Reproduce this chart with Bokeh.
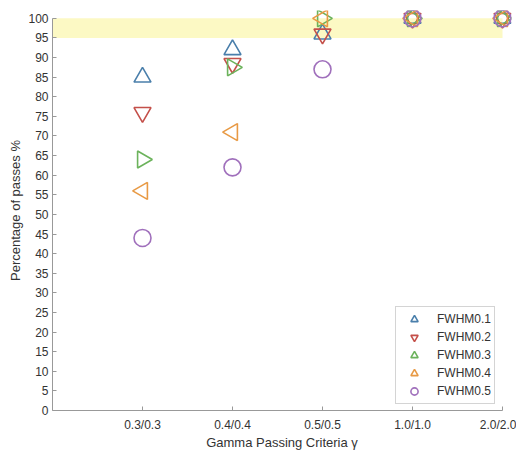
import math
from bokeh.plotting import figure
from bokeh.models import Range1d, FixedTicker, BoxAnnotation, Legend, LegendItem, ColumnDataSource
from bokeh.embed import file_html
from bokeh.resources import INLINE

criteria = ["0.3/0.3", "0.4/0.4", "0.5/0.5", "1.0/1.0", "2.0/2.0"]
fwhm01 = [85, 92, 96, 100, 100]
fwhm02 = [76, 88.5, 96, 100, 100]
fwhm03 = [64, 87.5, 100, 100, 100]
fwhm04 = [56, 71, 100, 100, 100]
fwhm05 = [44, 62, 87, 100, 100]
series_names = ["FWHM0.1", "FWHM0.2", "FWHM0.3", "FWHM0.4", "FWHM0.5"]
band_low, band_high = 95, 100
y_ticks = list(range(0, 101, 5))

colors = ["#4a7fab", "#c4504a", "#6cb35c", "#e89a45", "#a070bc"]
markers = ["triangle", "inverted_triangle", "triangle", "triangle", "circle"]
angles = [0, 0, -math.pi / 2, math.pi / 2, 0]

xs = list(range(1, len(criteria) + 1))

p = figure(frame_width=459, frame_height=400, output_backend="svg", toolbar_location=None,
           x_range=Range1d(0, 5.1), y_range=Range1d(0, 102),
           min_border_left=52, min_border_right=5, min_border_top=10, min_border_bottom=45)
p.outline_line_color = None
p.xgrid.visible = False
p.ygrid.visible = False

band = BoxAnnotation(bottom=band_low, top=band_high, left=0, right=len(criteria),
                     fill_color="#fcf9c4", fill_alpha=1.0, line_color=None, level="underlay")
p.add_layout(band)

items = []
for name, vals, c, m, a in zip(series_names, [fwhm01, fwhm02, fwhm03, fwhm04, fwhm05], colors, markers, angles):
    src = ColumnDataSource(dict(x=xs, y=vals))
    r = p.scatter("x", "y", source=src, marker=m, angle=a, size=17, fill_color=None,
                  line_color=c, line_width=1.6)
    items.append(LegendItem(label=name, renderers=[r]))

legend = Legend(items=items, location=(343, 6), glyph_width=30, glyph_height=18,
                label_height=18, spacing=0, padding=3, label_standoff=8,
                label_text_font="Liberation Sans",
                label_text_font_size="12px", label_text_color="#333333",
                border_line_color="#aaaaaa", border_line_width=1, background_fill_alpha=1.0,
                margin=0)
p.add_layout(legend)

for ax in (p.xaxis, p.yaxis):
    ax.axis_line_color = "#999999"
    ax.major_tick_line_color = "#999999"
    ax.major_tick_in = 4
    ax.major_tick_out = 0
    ax.minor_tick_line_color = None
    ax.major_label_text_font = "Liberation Sans"
    ax.major_label_text_font_size = "12px"
    ax.major_label_text_color = "#333333"
    ax.axis_label_text_font = "Liberation Sans"
    ax.axis_label_text_font_size = "13px"
    ax.axis_label_text_font_style = "normal"
    ax.axis_label_text_color = "#333333"

p.xaxis.ticker = FixedTicker(ticks=xs)
p.xaxis.major_label_overrides = {x: c for x, c in zip(xs, criteria)}
p.xaxis.bounds = (0, len(criteria))
p.xaxis.axis_label = "Gamma Passing Criteria γ"
p.xaxis.major_label_standoff = 7
p.xaxis.axis_label_standoff = 0

p.yaxis.ticker = FixedTicker(ticks=y_ticks)
p.yaxis.bounds = (0, 100)
p.yaxis.axis_label = "Percentage of passes %"
p.yaxis.major_label_standoff = 4
p.yaxis.axis_label_standoff = 2

open("out.html", "w").write(file_html(p, INLINE))
